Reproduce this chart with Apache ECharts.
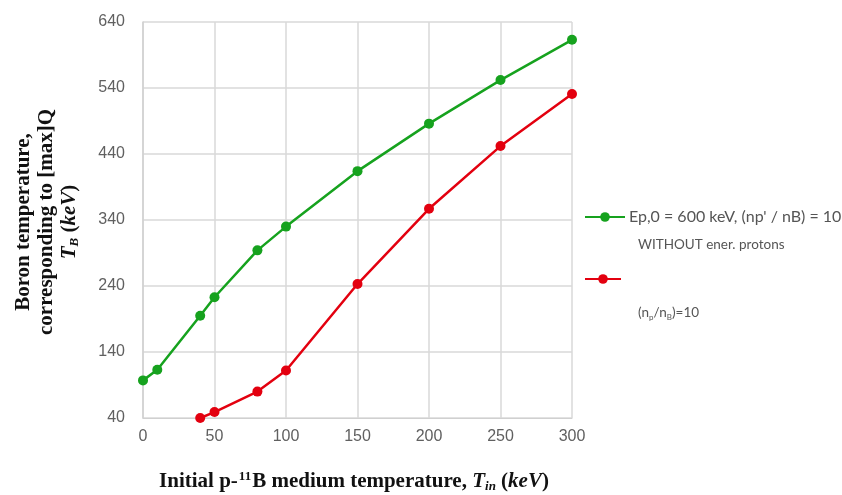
<!DOCTYPE html>
<html>
<head>
<meta charset="UTF-8">
<title>Boron temperature</title>
<script src="https://cdn.jsdelivr.net/npm/echarts@6/dist/echarts.min.js"></script>
<style>
	html, body { margin: 0; padding: 0; background: #fff; }
	#main { width: 842px; height: 495px; }
</style>
</head>
<body>
<div id="main"></div>
<script type="text/javascript">
	// initial temperature T_in (keV)
	var tinGreen = [0, 10, 40, 50, 80, 100, 150, 200, 250, 300];
	var tbGreen = [97, 113, 195, 223, 294, 330, 414, 486, 552, 613];
	var tinRed = [40, 50, 80, 100, 150, 200, 250, 300];
	var tbRed = [40, 49, 80, 112, 243, 357, 452, 531];
	var yTicks = [40, 140, 240, 340, 440, 540, 640];
	var xTicks = [0, 50, 100, 150, 200, 250, 300];

	var GREEN = '#16a21e';
	var RED = '#e3000f';

	function pairs(xs, ys) {
		var out = [];
		for (var i = 0; i < xs.length; i++) out.push([xs[i], ys[i]]);
		return out;
	}

	var serif = '"Liberation Serif", "DejaVu Serif", serif';
	var sans = 'Lato, "Open Sans", sans-serif';

	var myChart = echarts.init(document.getElementById('main'));
	var option = {
		animation: false,
		grid: { left: 143, right: 270, top: 22, bottom: 77 },
		xAxis: {
			type: 'value',
			min: xTicks[0], max: xTicks[xTicks.length - 1], interval: 50,
			axisLine: { show: true, lineStyle: { color: '#d0d0d0', width: 1 } },
			axisTick: { show: false },
			splitLine: { show: true, lineStyle: { color: '#d9d9d9', width: 1.5 } },
			axisLabel: { color: '#606060', fontSize: 16, margin: 11, fontFamily: 'Liberation Sans, Arial' }
		},
		yAxis: {
			type: 'value',
			min: yTicks[0], max: yTicks[yTicks.length - 1], interval: 100,
			axisLine: { show: true, lineStyle: { color: '#d0d0d0', width: 1.5 } },
			axisTick: { show: false },
			splitLine: { show: true, lineStyle: { color: '#d9d9d9', width: 1.5 } },
			axisLabel: { color: '#606060', fontSize: 16, margin: 18, fontFamily: 'Liberation Sans, Arial' }
		},
		legend: [
			{
				data: ['green'],
				orient: 'vertical', left: 584, top: 209, padding: 0,
				itemWidth: 40, itemHeight: 12,
				formatter: function () { return 'Ep,0 = 600 keV, (np\' / nB) = 10'; },
				textStyle: { color: '#555', fontSize: 16, fontFamily: sans, padding: [0, 0, 0, -1] }
			},
			{
				data: ['red'],
				orient: 'vertical', left: 584, top: 238, padding: 0,
				itemWidth: 36, itemHeight: 12,
				formatter: function () {
					return '{a|WITHOUT ener. protons}\n{a|(n}{s|p}{a|/n}{s|B}{a|)=10}';
				},
				textStyle: {
					color: '#555', fontSize: 13.5, fontFamily: sans, padding: [0, 0, 0, 12],
					rich: {
						a: { color: '#555', fontSize: 13.5, fontFamily: sans, lineHeight: 68 },
						s: { color: '#555', fontSize: 8, fontFamily: sans, padding: [8, 0, 0, 0] }
					}
				}
			}
		],
		graphic: [
			{
				type: 'text',
				x: 47, y: 222, rotation: Math.PI / 2,
				style: {
					text: '{b|Boron temperature,}\n{b|corresponding to [max]Q}\n{i|T}{is|B}{b| (}{i|keV}{b|)}',
					textAlign: 'center', textVerticalAlign: 'middle',
					rich: {
						b: { fontFamily: serif, fontWeight: 'bold', fontSize: 21, fill: '#111', lineHeight: 23 },
						i: { fontFamily: serif, fontWeight: 'bold', fontStyle: 'italic', fontSize: 21, fill: '#111', lineHeight: 23 },
						is: { fontFamily: serif, fontWeight: 'bold', fontStyle: 'italic', fontSize: 13, fill: '#111', padding: [10, 0, 0, 0] }
					}
				}
			},
			{
				type: 'text',
				x: 354, y: 482,
				style: {
					text: '{b|Initial p-}{sup|11}{b|B medium temperature, }{i|T}{isub|in}{b| (}{i|keV}{b|)}',
					textAlign: 'center', textVerticalAlign: 'middle',
					rich: {
						b: { fontFamily: serif, fontWeight: 'bold', fontSize: 21, fill: '#111', lineHeight: 26 },
						sup: { fontFamily: serif, fontWeight: 'bold', fontSize: 13, fill: '#111', padding: [0, 1, 10, 1] },
						i: { fontFamily: serif, fontWeight: 'bold', fontStyle: 'italic', fontSize: 21, fill: '#111', lineHeight: 26 },
						isub: { fontFamily: serif, fontWeight: 'bold', fontStyle: 'italic', fontSize: 13, fill: '#111', padding: [10, 0, 0, 0] }
					}
				}
			}
		],
		series: [
			{
				name: 'green', type: 'line',
				data: pairs(tinGreen, tbGreen),
				symbol: 'circle', symbolSize: 10,
				lineStyle: { color: GREEN, width: 2.5 },
				itemStyle: { color: GREEN },
				clip: false
			},
			{
				name: 'red', type: 'line',
				data: pairs(tinRed, tbRed),
				symbol: 'circle', symbolSize: 10,
				lineStyle: { color: RED, width: 2.5 },
				itemStyle: { color: RED },
				clip: false
			}
		]
	};
	myChart.setOption(option);
</script>
</body>
</html>
